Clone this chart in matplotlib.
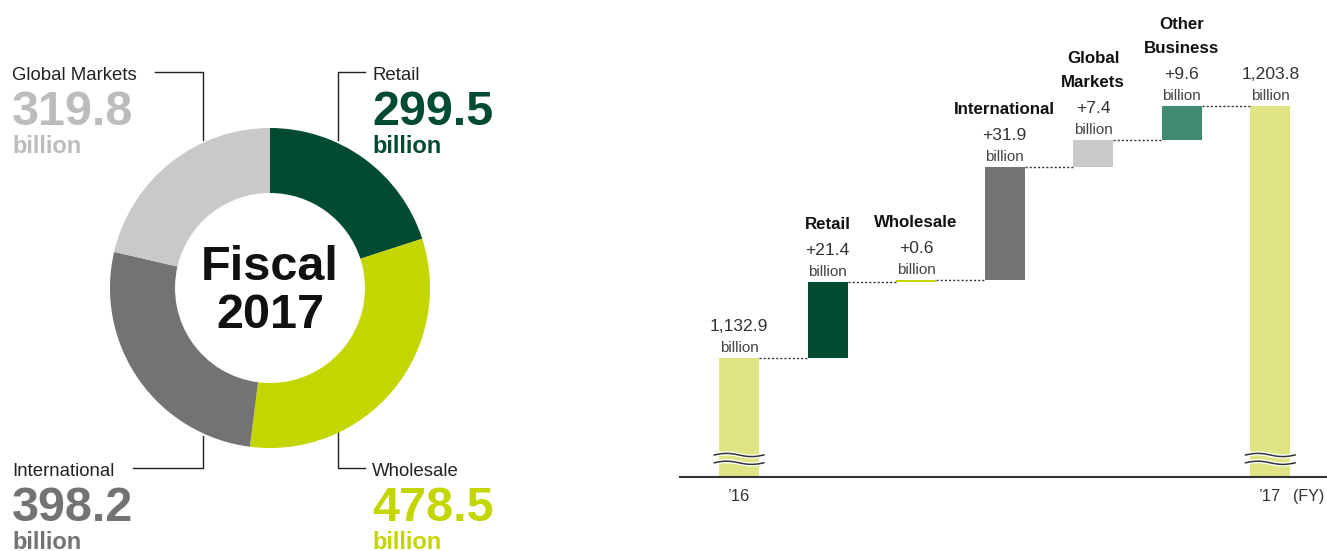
import matplotlib.pyplot as plt
import numpy as np

# donut data (fiscal 2017, billion)
segments = ['Retail', 'Wholesale', 'International', 'Global Markets']
seg_values = [299.5, 478.5, 398.2, 319.8]
seg_colors = ['#004b31', '#c3d600', '#737373', '#c8c9c8']
num_colors = ['#004b31', '#c3d600', '#737373', '#bcbcbc']

# waterfall data
start_value = 1132.9
end_value = 1203.8
step_names = ['Retail', 'Wholesale', 'International', 'Global\nMarkets', 'Other\nBusiness']
step_values = [21.4, 0.6, 31.9, 7.4, 9.6]
step_colors = ['#004b31', '#c3d600', '#737373', '#c8c9c8', '#3f8a73']
base_color = '#dfe584'
year_labels = ['\u201916', '\u201917']

plt.rcParams['font.family'] = ['Liberation Sans', 'DejaVu Sans']

W, H = 1327, 551
fig = plt.figure(figsize=(W / 100, H / 100), dpi=100)

# overlay in pixel coordinates for labels / leader lines
ov = fig.add_axes([0, 0, 1, 1])
ov.set_xlim(0, W)
ov.set_ylim(H, 0)
ov.axis('off')

# ---- donut ----
cx, cy, r = 270, 288, 160
axp = fig.add_axes([(cx - r) / W, (H - cy - r) / H, 2 * r / W, 2 * r / H])
axp.pie(seg_values, colors=seg_colors, startangle=90, counterclock=False,
        radius=1, wedgeprops=dict(width=1 - 95 / 160, linewidth=0))
axp.set_xlim(-1, 1)
axp.set_ylim(-1, 1)
axp.text(0, -0.02, 'Fiscal\n2017', ha='center', va='center', fontsize=35,
         fontweight='bold', color='#111111', linespacing=1.08)

# label blocks: (x text, baseline y of name, leader line pts)
blocks = {
    'Global Markets': (12, 80, [(155, 72), (203, 72), (203, 140)]),
    'Retail': (372, 80, [(365, 72), (338, 72), (338, 140)]),
    'International': (12, 476, [(133, 468), (203, 468), (203, 436)]),
    'Wholesale': (372, 476, [(365, 468), (338, 468), (338, 432)]),
}
for name, val, col in zip(segments, seg_values, num_colors):
    x, yb, pts = blocks[name]
    ov.text(x, yb, name, fontsize=13.4, color='#222222', va='baseline', ha='left')
    ov.text(x, yb + 45, f'{val:.1f}', fontsize=35, fontweight='bold', color=col,
            va='baseline', ha='left')
    ov.text(x, yb + 73, 'billion', fontsize=17, fontweight='bold', color=col,
            va='baseline', ha='left')
    xs, ys = zip(*pts)
    ov.plot(xs, ys, color='#222222', lw=1)

# ---- waterfall ----
ax = fig.add_axes([680 / W, (H - 477) / H, (W - 680) / W, 477 / H])
ax.set_xlim(-0.667, 6.64)
ax.set_ylim(1099.4, 1099.4 + 477 / 3.55)
ax.axis('off')
bw = 0.45
ymin = ax.get_ylim()[0]

tops = [start_value]
n = len(step_values) + 2
ax.bar(0, start_value - ymin, bottom=ymin, width=bw, color=base_color)
level = start_value
for i, (v, c) in enumerate(zip(step_values, step_colors), start=1):
    ax.bar(i, v, bottom=level, width=bw, color=c)
    level += v
    tops.append(level)
ax.bar(n - 1, end_value - ymin, bottom=ymin, width=bw, color=base_color)
tops.append(end_value)

# dotted connectors
for i in range(n - 1):
    ax.plot([i + bw / 2, i + 1 - bw / 2], [tops[i], tops[i]], ls=(0, (1.5, 1.5)),
            color='#333333', lw=1)

# labels above bars
def stack(x, top, lines_bold, value):
    ax.annotate('billion', (x, top), xytext=(0, 6), textcoords='offset pixels',
                ha='center', va='baseline', fontsize=11, color='#444444')
    ax.annotate(value, (x, top), xytext=(0, 27), textcoords='offset pixels',
                ha='center', va='baseline', fontsize=12.6, color='#333333')
    for k, ln in enumerate(reversed(lines_bold)):
        ax.annotate(ln, (x, top), xytext=(0, 53 + 24 * k), textcoords='offset pixels',
                    ha='center', va='baseline', fontsize=12.2, fontweight='bold',
                    color='#111111')

stack(0, tops[0], [], f'{start_value:,.1f}')
for i, (nm, v) in enumerate(zip(step_names, step_values), start=1):
    stack(i, tops[i], nm.split('\n'), f'+{v}')
stack(n - 1, end_value, [], f'{end_value:,.1f}')

# break marks on base bars
wx = np.linspace(-0.28, 0.28, 60)
for bx in (0, n - 1):
    for lv in (1105.6, 1103.4):
        wy = lv + 0.45 * np.sin((wx + 0.28) / 0.56 * 2 * np.pi)
        ax.plot(bx + wx, wy, color='white', lw=3, solid_capstyle='butt')
        ax.plot(bx + wx, wy, color='#333333', lw=1.1)

ax.axhline(ymin, color='#333333', lw=1.5, clip_on=False)
for bx, lab in zip((0, n - 1), year_labels):
    ax.annotate(lab, (bx, ymin), xytext=(0, -24), textcoords='offset pixels',
                ha='center', va='baseline', fontsize=12, color='#333333')
ax.annotate('(FY)', (n - 1, ymin), xytext=(23, -24), textcoords='offset pixels',
            ha='left', va='baseline', fontsize=11.5, color='#333333')

fig.savefig('out.png', dpi=100)
